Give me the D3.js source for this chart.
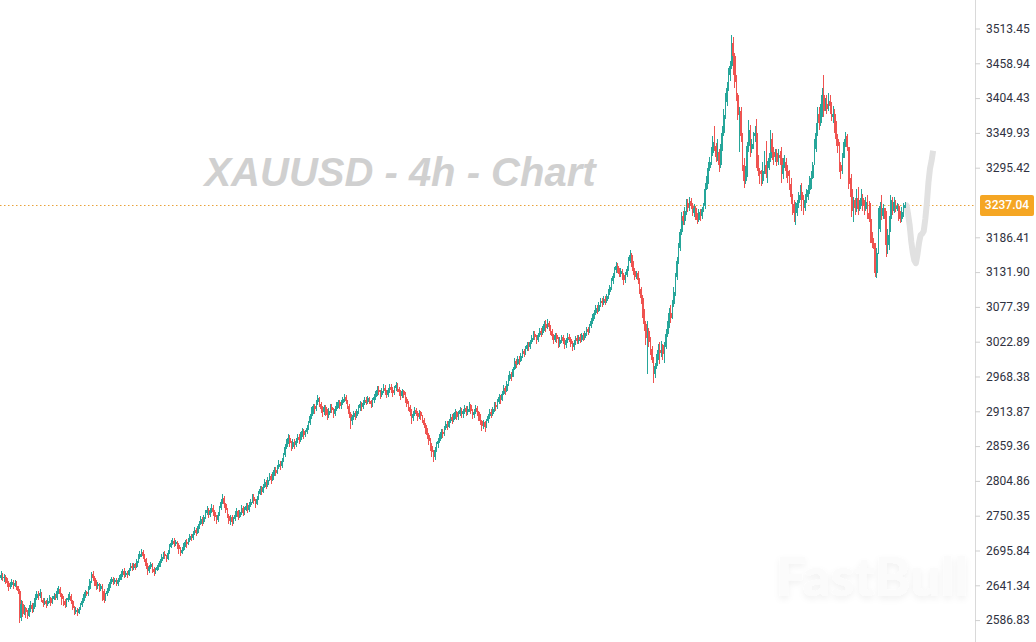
<!DOCTYPE html>
<html><head><meta charset="utf-8">
<script src="https://cdn.jsdelivr.net/npm/d3@7"></script>
<style>html,body{margin:0;padding:0;background:#fff;overflow:hidden}svg{display:block}</style>
</head><body><svg id="chart" width="1036" height="642"></svg>
<script>
// ---- data ----
const title = "XAUUSD - 4h - Chart";
const watermark = "FastBull";
const lastPrice = 3237.04;
const firstOpen = 2652;
const closes = [
2657,2652,2655,2649,2645,2639,2642,2646,2641,2645,
2640,2632,2590,2612,2597,2605,2599,2594,2606,2611,
2604,2609,2622,2628,2625,2630,2619,2613,2616,2612,
2617,2621,2614,2620,2625,2622,2632,2636,2627,2620,
2616,2610,2618,2622,2625,2616,2606,2600,2603,2598,
2604,2610,2617,2624,2631,2627,2636,2648,2659,2652,
2645,2640,2643,2636,2640,2632,2619,2627,2633,2639,
2646,2651,2647,2650,2644,2649,2653,2659,2664,2658,
2661,2657,2665,2672,2668,2674,2670,2679,2686,2690,
2693,2687,2682,2672,2664,2670,2674,2667,2662,2666,
2670,2673,2679,2685,2690,2687,2683,2692,2701,2708,
2711,2706,2709,2704,2698,2692,2697,2703,2709,2706,
2712,2718,2715,2722,2728,2724,2731,2738,2745,2741,
2748,2755,2760,2752,2758,2763,2756,2748,2744,2752,
2762,2772,2778,2768,2760,2750,2742,2748,2740,2745,
2752,2758,2749,2756,2762,2755,2760,2766,2760,2767,
2772,2780,2774,2768,2777,2785,2792,2788,2796,2803,
2798,2807,2812,2806,2815,2822,2818,2826,2832,2828,
2836,2845,2858,2866,2872,2864,2858,2866,2861,2868,
2874,2869,2877,2883,2876,2881,2888,2895,2906,2914,
2922,2917,2928,2934,2925,2918,2912,2920,2914,2908,
2915,2921,2916,2910,2918,2924,2928,2922,2927,2933,
2937,2930,2922,2910,2898,2905,2911,2906,2914,2919,
2925,2921,2927,2932,2928,2934,2930,2925,2931,2936,
2942,2948,2944,2939,2946,2951,2945,2940,2947,2952,
2948,2943,2950,2955,2949,2944,2938,2945,2940,2933,
2926,2920,2913,2903,2910,2916,2911,2905,2912,2907,
2900,2893,2884,2876,2868,2860,2850,2843,2854,2862,
2868,2875,2882,2878,2887,2894,2890,2898,2905,2900,
2906,2912,2905,2910,2916,2909,2914,2919,2913,2918,
2923,2915,2908,2913,2919,2912,2905,2898,2891,2897,
2890,2898,2906,2913,2909,2917,2924,2920,2929,2936,
2932,2941,2950,2946,2957,2965,2972,2968,2980,2992,
2988,2996,2993,3001,3008,3004,3012,3018,3014,3022,
3029,3035,3031,3026,3033,3040,3036,3044,3050,3045,
3052,3046,3039,3032,3026,3033,3027,3020,3026,3030,
3024,3018,3025,3031,3027,3020,3014,3021,3028,3024,
3030,3026,3033,3029,3036,3042,3038,3047,3055,3062,
3068,3075,3071,3080,3087,3083,3090,3086,3094,3100,
3108,3118,3126,3135,3141,3136,3129,3134,3127,3120,
3128,3137,3150,3158,3145,3133,3125,3130,3119,3106,
3092,3070,3050,3028,3040,3022,3012,2995,2972,2985,
2998,3010,3005,3018,3003,3015,3035,3050,3068,3060,
3082,3100,3125,3150,3170,3195,3220,3212,3228,3240,
3232,3244,3236,3225,3232,3220,3214,3226,3219,3230,
3236,3262,3275,3295,3305,3318,3336,3329,3312,3320,
3300,3325,3350,3378,3398,3420,3440,3455,3490,3470,
3430,3410,3378,3385,3345,3300,3275,3290,3330,3355,
3325,3332,3345,3350,3300,3290,3285,3275,3290,3300,
3285,3295,3310,3340,3320,3312,3318,3305,3315,3310,
3285,3300,3305,3290,3282,3270,3250,3238,3225,3232,
3240,3252,3258,3245,3232,3245,3250,3260,3272,3280,
3300,3325,3350,3380,3365,3380,3410,3385,3395,3388,
3400,3392,3375,3380,3362,3340,3330,3300,3290,3310,
3335,3345,3328,3270,3262,3228,3245,3232,3248,3230,
3240,3248,3236,3230,3242,3225,3215,3185,3178,3174,
3130,3162,3200,3235,3220,3232,3225,3175,3190,3215,
3245,3228,3242,3230,3236,3222,3215,3226,3233,3237.04
];
const highs = [
2663,2660,2659,2657,2652,2648,2647,2651,2649,2650,
2648,2641,2635,2618,2616,2610,2608,2603,2610,2616,
2614,2613,2627,2633,2632,2635,2631,2622,2621,2619,
2622,2626,2623,2624,2630,2628,2637,2640,2638,2630,
2624,2620,2621,2628,2631,2627,2618,2609,2607,2606,
2608,2614,2622,2628,2634,2633,2640,2651,2662,2664,
2656,2649,2647,2645,2644,2643,2635,2630,2637,2643,
2651,2654,2655,2653,2652,2652,2657,2663,2667,2668,
2664,2663,2668,2676,2677,2677,2676,2683,2690,2695,
2698,2696,2690,2684,2676,2673,2678,2677,2670,2669,
2673,2677,2683,2690,2694,2695,2689,2696,2706,2713,
2716,2715,2713,2711,2707,2702,2701,2708,2713,2714,
2716,2722,2721,2726,2732,2731,2735,2742,2750,2749,
2752,2760,2766,2763,2762,2768,2767,2760,2752,2756,
2766,2776,2784,2781,2771,2763,2753,2752,2751,2749,
2757,2762,2760,2759,2767,2765,2764,2771,2770,2772,
2777,2784,2784,2777,2781,2789,2797,2797,2800,2808,
2806,2811,2817,2815,2819,2827,2826,2830,2837,2836,
2840,2849,2862,2871,2878,2876,2867,2870,2871,2872,
2879,2878,2881,2887,2886,2885,2892,2899,2910,2920,
2926,2926,2932,2940,2937,2929,2922,2924,2923,2917,
2919,2925,2925,2919,2922,2929,2932,2931,2931,2937,
2941,2940,2932,2925,2912,2908,2915,2915,2918,2923,
2930,2929,2931,2937,2936,2938,2937,2932,2935,2941,
2946,2953,2953,2947,2950,2956,2955,2948,2951,2957,
2956,2952,2954,2959,2958,2952,2947,2949,2948,2944,
2936,2930,2923,2917,2914,2920,2919,2914,2916,2915,
2908,2904,2896,2888,2880,2872,2865,2853,2858,2866,
2872,2879,2886,2886,2891,2898,2898,2902,2910,2909,
2911,2917,2915,2914,2921,2919,2918,2924,2922,2922,
2928,2926,2918,2917,2923,2922,2915,2909,2901,2901,
2898,2902,2910,2918,2917,2921,2929,2928,2933,2941,
2940,2945,2955,2954,2961,2970,2977,2976,2984,2997,
2996,3000,3000,3005,3012,3012,3016,3023,3022,3026,
3033,3040,3039,3034,3037,3045,3044,3048,3056,3057,
3058,3055,3049,3042,3035,3037,3036,3030,3030,3034,
3033,3028,3029,3036,3035,3030,3024,3025,3032,3033,
3034,3035,3037,3037,3040,3046,3046,3051,3060,3066,
3072,3080,3080,3085,3091,3091,3095,3094,3098,3105,
3112,3123,3131,3140,3148,3146,3139,3138,3137,3130,
3132,3142,3156,3166,3162,3150,3138,3134,3133,3122,
3108,3096,3074,3056,3056,3045,3030,3016,2999,2990,
3004,3020,3022,3024,3020,3022,3042,3055,3075,3080,
3088,3108,3130,3156,3178,3200,3226,3228,3234,3246,
3246,3250,3248,3240,3238,3236,3225,3230,3231,3234,
3240,3272,3282,3305,3312,3328,3345,3361,3334,3340,
3325,3332,3360,3388,3412,3430,3452,3462,3503,3500,
3475,3440,3412,3390,3390,3350,3310,3298,3335,3370,
3362,3340,3352,3360,3372,3315,3295,3292,3305,3322,
3338,3306,3318,3354,3350,3328,3324,3325,3325,3322,
3328,3310,3315,3310,3300,3292,3280,3255,3245,3242,
3245,3258,3268,3272,3252,3255,3262,3268,3282,3290,
3305,3340,3365,3390,3390,3395,3420,3440,3405,3410,
3412,3410,3398,3392,3388,3368,3348,3335,3305,3318,
3340,3352,3348,3310,3280,3285,3250,3248,3262,3265,
3245,3262,3255,3245,3250,3252,3243,3240,3195,3186,
3178,3170,3232,3242,3253,3238,3232,3228,3200,3220,
3252,3250,3250,3245,3240,3238,3228,3234,3240,3242
];
const lows = [
2650,2648,2647,2644,2639,2633,2636,2639,2636,2638,
2634,2628,2583,2586,2592,2595,2590,2588,2591,2600,
2598,2600,2607,2618,2619,2622,2615,2608,2610,2606,
2609,2614,2609,2612,2618,2618,2619,2628,2623,2611,
2609,2605,2608,2615,2618,2612,2603,2595,2596,2593,
2597,2602,2608,2614,2622,2624,2625,2634,2645,2648,
2640,2634,2636,2631,2633,2617,2613,2617,2624,2630,
2637,2643,2642,2643,2640,2641,2646,2650,2655,2652,
2655,2652,2656,2664,2664,2666,2665,2668,2676,2682,
2686,2683,2678,2667,2658,2661,2667,2660,2656,2659,
2663,2666,2670,2676,2682,2682,2678,2681,2690,2700,
2704,2702,2703,2698,2690,2687,2690,2695,2701,2700,
2704,2709,2710,2713,2720,2719,2722,2729,2736,2735,
2738,2745,2751,2747,2749,2754,2750,2742,2737,2741,
2750,2760,2768,2763,2755,2746,2738,2736,2734,2737,
2742,2748,2744,2746,2752,2750,2752,2757,2754,2756,
2764,2770,2768,2763,2767,2775,2783,2782,2786,2794,
2792,2796,2805,2800,2804,2813,2812,2816,2823,2822,
2825,2834,2843,2855,2862,2858,2852,2855,2855,2858,
2864,2862,2866,2873,2871,2873,2878,2884,2893,2902,
2910,2910,2915,2924,2920,2911,2905,2908,2906,2901,
2903,2911,2911,2903,2907,2914,2919,2917,2918,2924,
2928,2925,2918,2904,2886,2893,2900,2901,2903,2910,
2915,2915,2918,2923,2923,2925,2925,2919,2921,2927,
2932,2938,2939,2933,2936,2942,2940,2935,2937,2943,
2942,2937,2940,2946,2944,2938,2932,2934,2934,2927,
2921,2915,2906,2894,2899,2906,2906,2899,2902,2900,
2895,2888,2878,2870,2861,2852,2842,2835,2838,2850,
2857,2864,2871,2872,2875,2884,2885,2887,2895,2894,
2897,2902,2900,2901,2906,2904,2904,2909,2907,2908,
2913,2909,2902,2903,2909,2906,2899,2892,2883,2886,
2882,2887,2895,2902,2903,2906,2913,2914,2918,2925,
2926,2930,2939,2940,2944,2954,2962,2962,2968,2979,
2981,2986,2987,2991,2998,2999,3002,3008,3008,3012,
3019,3025,3025,3020,3023,3030,3030,3034,3040,3038,
3043,3040,3034,3026,3019,3022,3021,3013,3015,3021,
3019,3012,3013,3021,3022,3015,3008,3010,3017,3019,
3020,3021,3023,3024,3026,3032,3033,3036,3044,3051,
3058,3064,3066,3069,3077,3077,3080,3080,3084,3090,
3096,3104,3114,3122,3131,3130,3124,3124,3120,3112,
3115,3124,3134,3146,3140,3128,3119,3121,3114,3098,
3082,3060,3040,3018,2972,3015,3002,2990,2958,2966,
2980,2994,2988,2999,2995,2990,3012,3030,3045,3052,
3058,3078,3095,3120,3145,3165,3190,3205,3205,3222,
3226,3228,3230,3220,3218,3214,3207,3210,3212,3215,
3226,3230,3260,3270,3290,3300,3314,3322,3305,3306,
3288,3295,3322,3345,3372,3392,3415,3432,3450,3440,
3420,3400,3370,3320,3335,3290,3264,3270,3281,3320,
3312,3318,3325,3335,3295,3283,3270,3266,3270,3285,
3280,3272,3292,3305,3308,3300,3305,3298,3300,3300,
3272,3278,3295,3280,3272,3260,3238,3222,3210,3206,
3220,3232,3245,3228,3222,3228,3240,3245,3255,3262,
3278,3300,3320,3345,3355,3360,3375,3375,3385,3380,
3385,3380,3368,3365,3350,3330,3318,3288,3278,3286,
3318,3328,3322,3262,3250,3218,3210,3222,3226,3222,
3228,3236,3228,3222,3228,3215,3210,3178,3170,3168,
3124,3122,3160,3195,3213,3215,3215,3155,3160,3166,
3195,3221,3225,3226,3228,3212,3209,3210,3218,3232
];
// projected (ghost) path after the last candle: bar index and price
const ghostIndex  = [579,580,581,582,583,584,585,586,587,588,589,590,591,592,593,594,595,596,597];
const ghostValues = [3238,3236,3222,3205,3180,3162,3150,3146,3160,3178,3190,3192,3196,3215,3240,3272,3294,3306,3322];
const tickValues = [3513.45,3458.94,3404.43,3349.93,3295.42,3186.41,3131.90,3077.39,3022.89,2968.38,2913.87,2859.36,2804.86,2750.35,2695.84,2641.34,2586.83];

// ---- drawing ----
const W = 1036, H = 642, axisX = 975;
const svg = d3.select("#chart");
const x = d3.scaleLinear().domain([0, closes.length - 1]).range([1, 905]);
const y = d3.scaleLinear().domain([2586.83, 3513.45]).range([620.1, 28.5]);

const candles = closes.map((c, i) => {
  const o = i === 0 ? firstOpen : closes[i - 1];
  return { i, o, c, h: Math.max(highs[i], o, c), l: Math.min(lows[i], o, c) };
});

// title
svg.append("text")
  .attr("x", 400).attr("y", 186)
  .attr("text-anchor", "middle")
  .attr("font-family", "'Liberation Sans', Arial, sans-serif")
  .attr("font-size", 40).attr("font-weight", 700).attr("font-style", "italic")
  .attr("fill", "#d0d0d0")
  .text(title);

// watermark
const defs = svg.append("defs");
const f = defs.append("filter").attr("id", "wm").attr("x", "-10%").attr("y", "-20%").attr("width", "120%").attr("height", "160%");
f.append("feDropShadow").attr("dx", 0).attr("dy", 3).attr("stdDeviation", 3).attr("flood-color", "#000").attr("flood-opacity", 0.06);
svg.append("text")
  .attr("x", 872).attr("y", 596)
  .attr("text-anchor", "middle")
  .attr("font-family", "Lato, 'Open Sans', sans-serif")
  .attr("font-size", 54).attr("font-weight", 900)
  .attr("fill", "#fbfbfb")
  .attr("filter", "url(#wm)")
  .text(watermark);

// current price line
svg.append("line")
  .attr("x1", 0).attr("x2", axisX)
  .attr("y1", Math.round(y(lastPrice)) + 0.5).attr("y2", Math.round(y(lastPrice)) + 0.5)
  .attr("stroke", "#e8a23a").attr("stroke-width", 1).attr("stroke-dasharray", "1.5,2.5");

// ghost projection
svg.append("path")
  .datum(ghostIndex.map((gi, k) => ({ i: gi, v: ghostValues[k] })))
  .attr("d", d3.line().x(d => x(d.i)).y(d => y(d.v)))
  .attr("fill", "none").attr("stroke", "#e1e1e1").attr("stroke-width", 6)
  .attr("stroke-linejoin", "round").attr("stroke-linecap", "butt");

// candles
const up = "#26a69a", down = "#ef5350";
const g = svg.append("g").attr("shape-rendering", "crispEdges");
g.selectAll("rect.wick").data(candles).join("rect")
  .attr("class", "wick")
  .attr("x", d => x(d.i) - 0.5).attr("width", 1)
  .attr("y", d => y(d.h)).attr("height", d => Math.max(1, y(d.l) - y(d.h)))
  .attr("fill", d => d.c >= d.o ? up : down);
g.selectAll("rect.body").data(candles).join("rect")
  .attr("class", "body")
  .attr("x", d => x(d.i) - 0.85).attr("width", 1.7)
  .attr("y", d => y(Math.max(d.o, d.c))).attr("height", d => Math.max(1, Math.abs(y(d.o) - y(d.c))))
  .attr("fill", d => d.c >= d.o ? up : down);

// right axis
svg.append("line").attr("x1", axisX + 0.5).attr("x2", axisX + 0.5).attr("y1", 0).attr("y2", H)
  .attr("stroke", "#d9d9d9");
const axis = svg.append("g").attr("transform", `translate(${axisX},0)`)
  .call(d3.axisRight(y).tickValues(tickValues).tickSize(5).tickPadding(6).tickFormat(d3.format(".2f")));
axis.select(".domain").remove();
axis.selectAll(".tick line").attr("stroke", "#cfcfcf");
axis.selectAll(".tick text").attr("fill", "#2f3241").attr("font-size", 12)
  .attr("font-family", "Roboto, 'Noto Sans', sans-serif");

// last price badge
const by = y(lastPrice);
svg.append("rect").attr("x", 980).attr("y", by - 10).attr("width", 54).attr("height", 21).attr("rx", 2)
  .attr("fill", "#f5a623");
svg.append("text").attr("x", 1007).attr("y", by + 4.5).attr("text-anchor", "middle")
  .attr("font-family", "Roboto, 'Noto Sans', sans-serif").attr("font-size", 12).attr("font-weight", 500)
  .attr("fill", "#ffffff").text(lastPrice.toFixed(2));
</script></body></html>
